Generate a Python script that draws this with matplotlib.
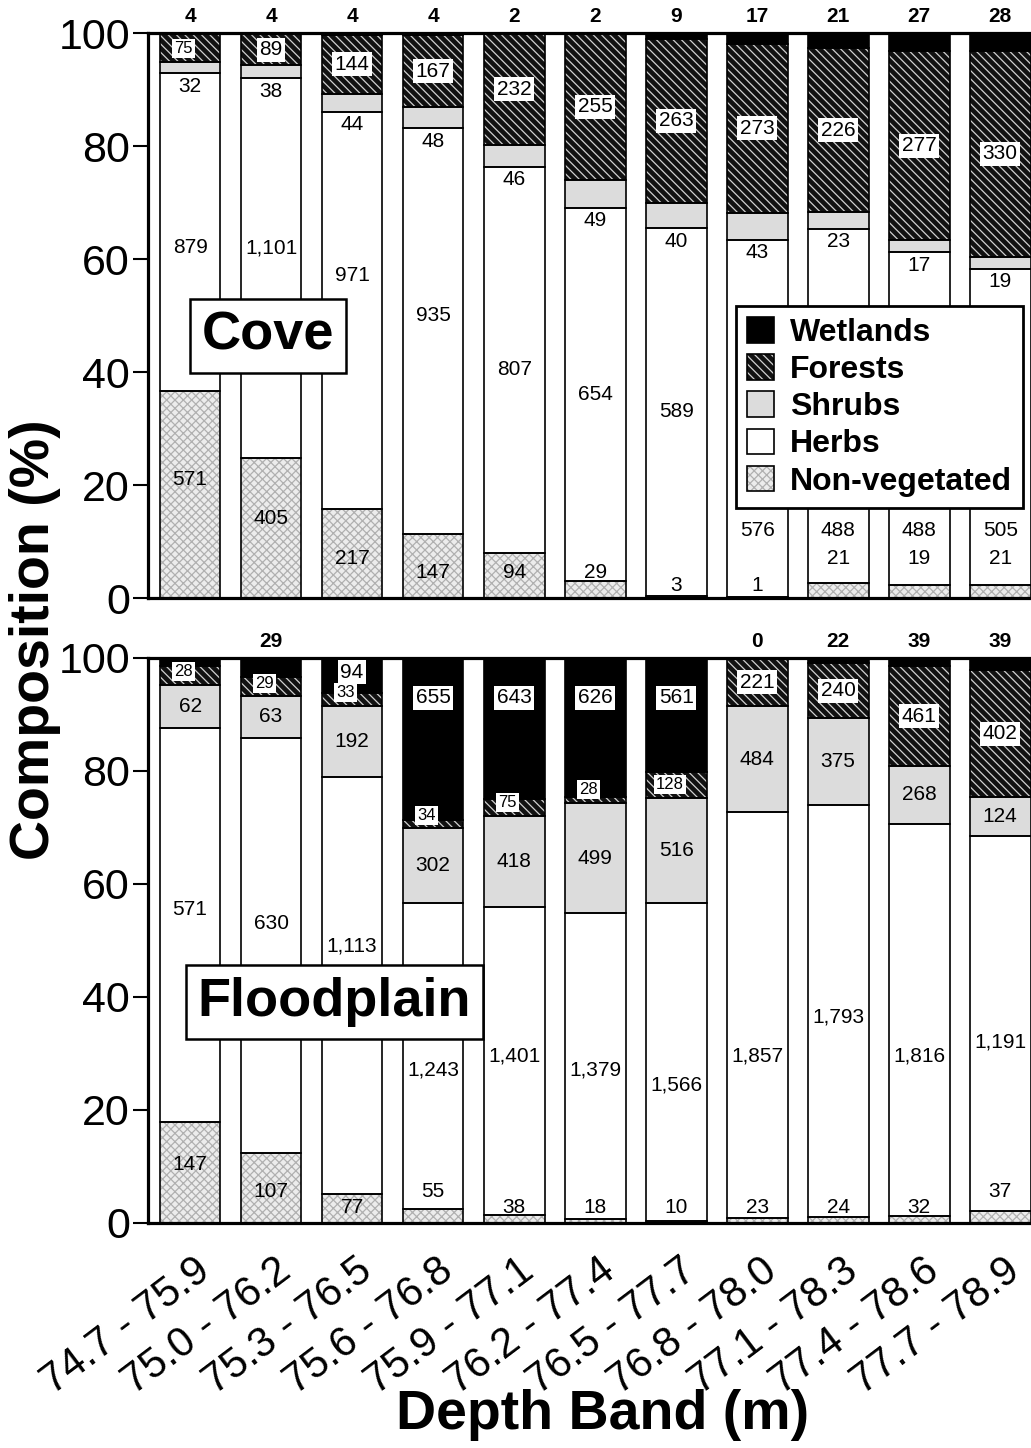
import numpy as np
import matplotlib.pyplot as plt
from matplotlib.patches import Patch
from matplotlib.transforms import ScaledTranslation

plt.rcParams['font.family'] = ['Liberation Sans', 'DejaVu Sans']
plt.rcParams['hatch.linewidth'] = 0.9

bands = ["74.7 - 75.9", "75.0 - 76.2", "75.3 - 76.5", "75.6 - 76.8",
         "75.9 - 77.1", "76.2 - 77.4", "76.5 - 77.7", "76.8 - 78.0",
         "77.1 - 78.3", "77.4 - 78.6", "77.7 - 78.9"]
categories = ["Wetlands", "Forests", "Shrubs", "Herbs", "Non-vegetated"]

# counts per depth band (cove)
cove_wetlands = [4, 4, 4, 4, 2, 2, 9, 17, 21, 27, 28]
cove_forests = [75, 89, 144, 167, 232, 255, 263, 273, 226, 277, 330]
cove_shrubs = [32, 38, 44, 48, 46, 49, 40, 43, 23, 17, 19]
cove_herbs = [879, 1101, 971, 935, 807, 654, 589, 576, 488, 488, 505]
cove_nonveg = [571, 405, 217, 147, 94, 29, 3, 1, 21, 19, 21]

# counts per depth band (floodplain); first wetland value is unlabelled, estimated
flood_wetlands = [11, 29, 94, 655, 643, 626, 561, 0, 22, 39, 39]
flood_forests = [28, 29, 33, 34, 75, 28, 128, 221, 240, 461, 402]
flood_shrubs = [62, 63, 192, 302, 418, 499, 516, 484, 375, 268, 124]
flood_herbs = [571, 630, 1113, 1243, 1401, 1379, 1566, 1857, 1793, 1816, 1191]
flood_nonveg = [147, 107, 77, 55, 38, 18, 10, 23, 24, 32, 37]

# label placement (percent), hand-placed in the original
cove_herb_ly = [62, 62, 57, 50, 40.5, 36, 33, 12, 12, 12, 12]
cove_nonveg_ly = [21, 14, 7, 4.5, 4.5, 4.5, 2.3, 2.3, 7, 7, 7]
flood_herb_ly = [55.5, 53, 49, 27, 29.5, 27, 24.5, 29.5, 36.5, 29.5, 32]
flood_nonveg_ly = [10.3, 5.5, 2.8, 5.5, 2.8, 2.8, 2.8, 2.8, 2.8, 2.8, 5.5]

# bottom-to-top drawing styles: nonveg, herbs, shrubs, forests, wetlands
styles = [
    dict(fc='#ececec', hatch='xxxx', hc='#b0b0b0'),
    dict(fc='white', hatch=None, hc='white'),
    dict(fc='#dcdcdc', hatch=None, hc='#dcdcdc'),
    dict(fc='#111111', hatch='\\\\\\\\', hc='#d0d0d0'),
    dict(fc='black', hatch=None, hc='black'),
]

width = 0.75
white_box = dict(boxstyle='square,pad=0.12', fc='white', ec='none')
fs_num = 15


def draw_panel(ax, wet, forest, shrub, herb, nonveg, herb_ly, nonveg_ly, hide_wet=()):
    wet, forest, shrub, herb, nonveg = [np.array(c, float) for c in (wet, forest, shrub, herb, nonveg)]
    total = wet + forest + shrub + herb + nonveg
    layers = [nonveg, herb, shrub, forest, wet]
    x = np.arange(len(bands))
    bottom = np.zeros(len(x))
    tops = []
    for lay, st in zip(layers, styles):
        p = lay / total * 100
        ax.bar(x, p, width, bottom=bottom, color=st['fc'], hatch=st['hatch'],
               edgecolor=st['hc'], linewidth=0, zorder=2)
        ax.bar(x, p, width, bottom=bottom, fill=False, edgecolor='black',
               linewidth=1.2, zorder=3)
        tops.append((bottom.copy(), bottom + p))
        bottom = bottom + p

    for i in x:
        # non-vegetated and herbs
        ax.text(i, nonveg_ly[i], f"{int(nonveg[i]):,}", ha='center', va='center', fontsize=fs_num, zorder=5)
        ax.text(i, herb_ly[i], f"{int(herb[i]):,}", ha='center', va='center', fontsize=fs_num, zorder=5)
        # shrubs
        s0, s1 = tops[2][0][i], tops[2][1][i]
        if s1 - s0 > 6:
            sy = (s0 + s1) / 2
        else:
            sy = s0 - 2.3
        ax.text(i, sy, f"{int(shrub[i]):,}", ha='center', va='center', fontsize=fs_num, zorder=5)
        # forests
        f0, f1 = tops[3][0][i], tops[3][1][i]
        small = (f1 - f0) < 5
        fy = max((f0 + f1) / 2, f0 + 2.3) if small else (f0 + f1) / 2
        ax.text(i - 0.08 if small else i, fy, f"{int(forest[i]):,}", ha='center', va='center',
                fontsize=12 if small else fs_num, bbox=white_box, zorder=5)
        # wetlands
        if i in hide_wet:
            continue
        w0, w1 = tops[4][0][i], tops[4][1][i]
        if w1 - w0 > 4:
            ax.text(i, 100 - min((w1 - w0) / 2 - 0.6, 7), f"{int(wet[i]):,}", ha='center',
                    va='center', fontsize=fs_num, bbox=white_box, zorder=5)
        else:
            ax.text(i, 103, f"{int(wet[i]):,}", ha='center', va='center',
                    fontsize=fs_num, fontweight='bold', clip_on=False, zorder=5)

    ax.set_xlim(-0.52, 10.38)
    ax.set_ylim(0, 100)
    ax.set_yticks(np.arange(0, 101, 20))
    ax.tick_params(axis='y', labelsize=31, length=11, width=1.5, pad=2)
    ax.tick_params(axis='x', length=0)
    for sp in ['left', 'bottom', 'top']:
        ax.spines[sp].set_linewidth(2.3)
    ax.spines['right'].set_visible(False)


fig = plt.figure(figsize=(10.31, 14.48), dpi=100)
ax1 = fig.add_axes([0.1435, 0.5870, 0.8565, 0.3902])
ax2 = fig.add_axes([0.1435, 0.1554, 0.8565, 0.3902])

draw_panel(ax1, cove_wetlands, cove_forests, cove_shrubs, cove_herbs, cove_nonveg,
           cove_herb_ly, cove_nonveg_ly)
draw_panel(ax2, flood_wetlands, flood_forests, flood_shrubs, flood_herbs, flood_nonveg,
           flood_herb_ly, flood_nonveg_ly, hide_wet=(0,))

ax1.set_xticks([])
ax2.set_xticks(np.arange(len(bands)))
ax2.set_xticklabels(bands, rotation=37, ha='right', va='top',
                    rotation_mode='anchor', fontsize=30)
ax2.tick_params(axis='x', pad=20)
for lab in ax2.get_xticklabels():
    lab.set_transform(lab.get_transform() + ScaledTranslation(0.03, 0, fig.dpi_scale_trans))

box = dict(boxstyle='square,pad=0.22', fc='white', ec='black', lw=1.8)
ax1.text(0.136, 0.464, "Cove", transform=ax1.transAxes, ha='center', va='center',
         fontsize=39, fontweight='bold', bbox=box, zorder=6)
ax2.text(0.211, 0.391, "Floodplain", transform=ax2.transAxes, ha='center', va='center',
         fontsize=39, fontweight='bold', bbox=box, zorder=6)

# legend, order from top of the stack down
handles = []
for st in styles[::-1]:
    h1 = Patch(facecolor=st['fc'], hatch=st['hatch'], edgecolor=st['hc'], linewidth=0)
    h2 = Patch(fill=False, edgecolor='black', linewidth=1.2)
    handles.append((h1, h2))
leg = ax1.legend(handles, categories, loc='upper right', bbox_to_anchor=(0.991, 0.517),
                 prop=dict(weight='bold', size=23), frameon=True, fancybox=False,
                 edgecolor='black', framealpha=1, handlelength=0.85, handleheight=0.85,
                 labelspacing=0.2, handletextpad=0.5, borderpad=0.35, borderaxespad=0)
leg.get_frame().set_linewidth(2)
leg.set_zorder(10)

fig.text(0.034, 0.558, "Composition (%)", rotation=90, ha='center', va='center',
         fontsize=40, fontweight='bold')
fig.text(0.584, 0.0228, "Depth Band (m)", ha='center', va='center',
         fontsize=40, fontweight='bold')

fig.savefig("out.png", dpi=100)
